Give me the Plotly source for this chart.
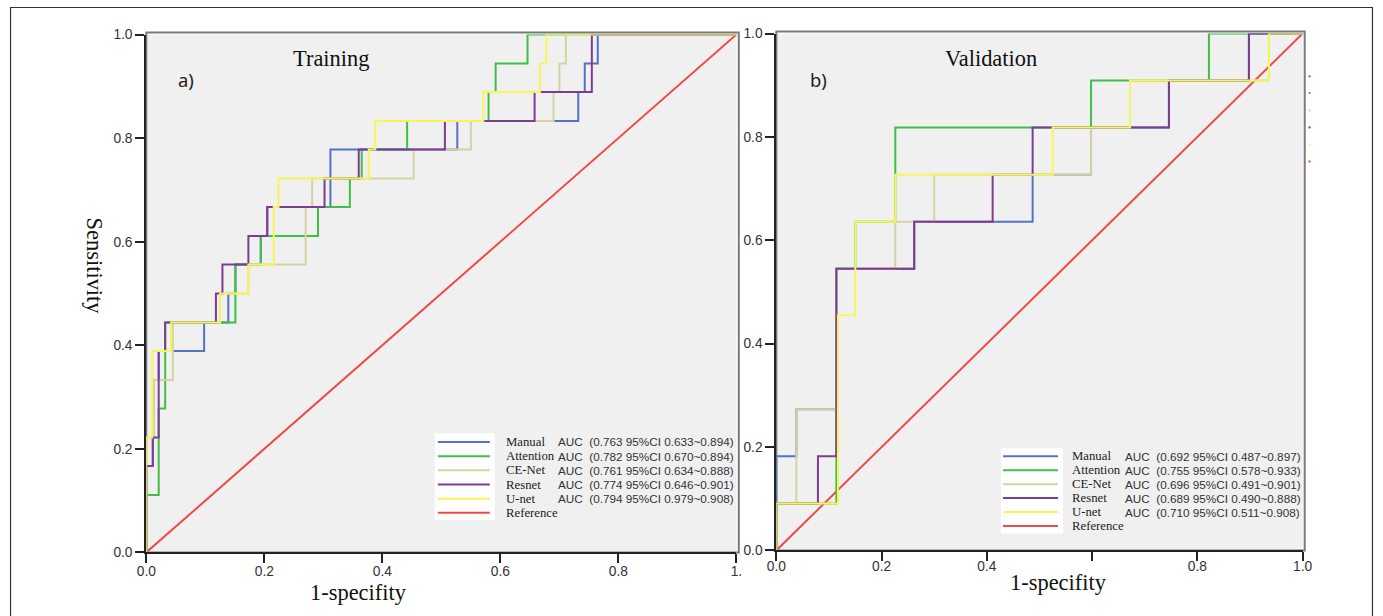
import plotly.graph_objects as go

W, H = 1383, 616

# ---------------- DATA ----------------
# Training panel: fpr at which tpr jumps, and the tpr level after the jump
tr_manual_fpr = [0, 0, 0.011, 0.013, 0.021, 0.098, 0.139, 0.151, 0.194, 0.205, 0.312, 0.527, 0.732, 0.743, 0.765, 1]
tr_manual_tpr = [0, 0.167, 0.222, 0.333, 0.389, 0.444, 0.500, 0.556, 0.611, 0.667, 0.778, 0.833, 0.889, 0.944, 1.0, 1.0]

tr_attention_fpr = [0, 0, 0.021, 0.032, 0.151, 0.194, 0.291, 0.345, 0.365, 0.442, 0.580, 0.592, 0.646, 1]
tr_attention_tpr = [0, 0.111, 0.278, 0.444, 0.556, 0.611, 0.667, 0.722, 0.778, 0.833, 0.889, 0.944, 1.0, 1.0]

tr_cenet_fpr = [0, 0, 0.013, 0.045, 0.125, 0.173, 0.270, 0.281, 0.453, 0.550, 0.690, 0.700, 0.711, 1]
tr_cenet_tpr = [0, 0.222, 0.333, 0.444, 0.500, 0.556, 0.667, 0.722, 0.778, 0.833, 0.889, 0.944, 1.0, 1.0]

tr_resnet_fpr = [0, 0, 0.011, 0.021, 0.032, 0.118, 0.129, 0.173, 0.205, 0.302, 0.360, 0.506, 0.658, 0.755, 1]
tr_resnet_tpr = [0, 0.167, 0.222, 0.389, 0.444, 0.500, 0.556, 0.611, 0.667, 0.722, 0.778, 0.833, 0.889, 1.0, 1.0]

tr_unet_fpr = [0, 0, 0.010, 0.042, 0.125, 0.173, 0.216, 0.224, 0.377, 0.388, 0.571, 0.667, 0.678, 1]
tr_unet_tpr = [0, 0.222, 0.389, 0.444, 0.500, 0.556, 0.667, 0.722, 0.778, 0.833, 0.889, 0.944, 1.0, 1.0]

# Validation panel
va_manual_fpr = [0, 0, 0.038, 0.114, 0.262, 0.487, 0.598, 0.746, 0.898, 1]
va_manual_tpr = [0, 0.182, 0.273, 0.545, 0.636, 0.727, 0.818, 0.909, 1.0, 1.0]

va_attention_fpr = [0, 0, 0.114, 0.150, 0.226, 0.598, 0.822, 1]
va_attention_tpr = [0, 0.091, 0.545, 0.636, 0.818, 0.909, 1.0, 1.0]

va_cenet_fpr = [0, 0, 0.038, 0.114, 0.226, 0.300, 0.598, 0.672, 0.936, 1]
va_cenet_tpr = [0, 0.091, 0.273, 0.545, 0.636, 0.727, 0.818, 0.909, 1.0, 1.0]

va_resnet_fpr = [0, 0, 0.079, 0.114, 0.262, 0.411, 0.487, 0.746, 0.898, 1]
va_resnet_tpr = [0, 0.091, 0.182, 0.545, 0.636, 0.727, 0.818, 0.909, 1.0, 1.0]

va_unet_fpr = [0, 0, 0.117, 0.150, 0.226, 0.525, 0.672, 0.936, 1]
va_unet_tpr = [0, 0.091, 0.455, 0.636, 0.727, 0.818, 0.909, 1.0, 1.0]

reference_x = [0, 1]
reference_y = [0, 1]

model_names = ["Manual", "Attention", "CE-Net", "Resnet", "U-net", "Reference"]
train_auc = ["AUC  (0.763 95%CI 0.633~0.894)", "AUC  (0.782 95%CI 0.670~0.894)",
             "AUC  (0.761 95%CI 0.634~0.888)", "AUC  (0.774 95%CI 0.646~0.901)",
             "AUC  (0.794 95%CI 0.979~0.908)", ""]
valid_auc = ["AUC  (0.692 95%CI 0.487~0.897)", "AUC  (0.755 95%CI 0.578~0.933)",
             "AUC  (0.696 95%CI 0.491~0.901)", "AUC  (0.689 95%CI 0.490~0.888)",
             "AUC  (0.710 95%CI 0.511~0.908)", ""]

tick_vals = [0, 0.2, 0.4, 0.6, 0.8, 1.0]
tick_text_y = ["0.0", "0.2", "0.4", "0.6", "0.8", "1.0"]
tick_text_xa = ["0.0", "0.2", "0.4", "0.6", "0.8", "1."]
tick_text_xb = ["0.0", "0.2", "0.4", "", "0.8", "1.0"]   # 0.6 is hidden under the axis title

colors = ["#5671c8", "#3fbf45", "#d8d2a2", "#7d3b92", "#f6f65a", "#f04848"]

# ---------------- FIGURE ----------------
# the page is shown slightly scaled/offset; map target pixel positions to paper coords
SX, SY, OX, OY = 0.987, 0.974, 7.5, 7.5


def X(px):
    return ((px - OX) / SX) / W


def Y(py):
    return 1 - ((py - OY) / SY) / H


FS = 1.0 / 0.98  # font compensation

fig = go.Figure()

train_sets = [(tr_manual_fpr, tr_manual_tpr), (tr_attention_fpr, tr_attention_tpr),
              (tr_cenet_fpr, tr_cenet_tpr), (tr_resnet_fpr, tr_resnet_tpr),
              (tr_unet_fpr, tr_unet_tpr)]
valid_sets = [(va_manual_fpr, va_manual_tpr), (va_attention_fpr, va_attention_tpr),
              (va_cenet_fpr, va_cenet_tpr), (va_resnet_fpr, va_resnet_tpr),
              (va_unet_fpr, va_unet_tpr)]

for axn, sets in (("", train_sets), ("2", valid_sets)):
    fig.add_trace(go.Scatter(x=reference_x, y=reference_y, mode="lines",
                             line=dict(color=colors[5], width=2),
                             xaxis="x" + axn, yaxis="y" + axn, showlegend=False,
                             hoverinfo="skip"))
    for i, (fx, ty) in enumerate(sets):
        fig.add_trace(go.Scatter(x=fx, y=ty, mode="lines", line_shape="hv",
                                 line=dict(color=colors[i], width=2),
                                 xaxis="x" + axn, yaxis="y" + axn,
                                 name=model_names[i], showlegend=False))

tickfont = dict(family="Liberation Sans, Arial, sans-serif", size=13.5 * FS, color="#333")
axis_common = dict(range=[0, 1], showgrid=False, zeroline=False, showline=True,
                   linecolor="#222", linewidth=2, ticks="outside", ticklen=9,
                   tickwidth=1.5, tickcolor="#222", tickfont=tickfont,
                   tickvals=tick_vals)

fig.update_layout(
    width=W, height=H,
    margin=dict(l=0, r=0, t=0, b=0),
    paper_bgcolor="white",
    plot_bgcolor="#f0f0f0",
    showlegend=False,
    xaxis=dict(domain=[X(144), X(735)], anchor="y", ticktext=tick_text_xa,
               ticklabelstandoff=-4, **axis_common),
    yaxis=dict(domain=[Y(552), Y(35)], anchor="x", ticktext=tick_text_y, **axis_common),
    xaxis2=dict(domain=[X(775), X(1302)], anchor="y2", ticktext=tick_text_xb,
                ticklabelstandoff=-7, **axis_common),
    yaxis2=dict(domain=[Y(550), Y(34)], anchor="x2", ticktext=tick_text_y, **axis_common),
)

shapes = []
# outer frame
shapes.append(dict(type="rect", xref="paper", yref="paper", x0=0.0004, x1=0.9996,
                   y0=-0.02, y1=0.9992, line=dict(color="#333", width=1.2), layer="below"))
# panel frames (top/right gray)
for xr, yr in (("x", "y"), ("x2", "y2")):
    shapes.append(dict(type="rect", xref=xr + " domain", yref=yr + " domain",
                       x0=0, x1=1.004, y0=0, y1=1.004,
                       line=dict(color="#7a7a7a", width=2), layer="below"))

annotations = []
serif = "Liberation Serif, Times New Roman, serif"
sans = "Liberation Sans, Arial, sans-serif"


def legend(box_x0, box_x1, box_y0, box_y1, line_x0, line_x1, row_y, name_x, auc_x, aucs):
    shapes.append(dict(type="rect", xref="paper", yref="paper",
                       x0=X(box_x0), x1=X(box_x1), y0=Y(box_y1), y1=Y(box_y0),
                       fillcolor="white", line=dict(width=0), layer="above"))
    for k, name in enumerate(model_names):
        yy = row_y[k]
        shapes.append(dict(type="line", xref="paper", yref="paper",
                           x0=X(line_x0), x1=X(line_x1), y0=Y(yy), y1=Y(yy),
                           line=dict(color=colors[k], width=2), layer="above"))
        annotations.append(dict(xref="paper", yref="paper", x=X(name_x), y=Y(yy),
                                text=name, showarrow=False, xanchor="left", yanchor="middle",
                                font=dict(family=serif, size=12.5 * FS, color="#222")))
        if aucs[k]:
            annotations.append(dict(xref="paper", yref="paper", x=X(auc_x), y=Y(yy),
                                    text=aucs[k].replace("  ", "&nbsp;&nbsp;"),
                                    showarrow=False, xanchor="left", yanchor="middle",
                                    font=dict(family=sans, size=11.5 * FS, color="#333")))


legend(433, 493, 433, 520, 436, 488, [441.7, 456, 470, 484.3, 498.3, 512.3], 502, 554, train_auc)
legend(1000, 1062, 448, 533, 1002, 1057, [456, 470, 484, 497.7, 511.7, 525.7], 1069, 1122, valid_auc)

# tiny leftover legend dots at the right of panel b
for k in range(6):
    yy = [76.7, 93.3, 110.7, 127.7, 145, 161.7][k]
    shapes.append(dict(type="line", xref="paper", yref="paper",
                       x0=X(1308), x1=X(1310), y0=Y(yy), y1=Y(yy),
                       line=dict(color=colors[k], width=2)))


def label(px, py, text, font, angle=0):
    return dict(xref="paper", yref="paper", x=X(px), y=Y(py), text=text, showarrow=False,
                xanchor="center", yanchor="middle", textangle=angle, font=font)


title_font = dict(family=serif, size=22 * FS, color="#111")
annotations += [
    label(329, 59, "Training", title_font),
    label(990, 59, "Validation", title_font),
    label(184, 80, "a)", dict(family="Noto Sans, sans-serif", size=18 * FS, color="#222")),
    label(817, 80, "b)", dict(family="Noto Sans, sans-serif", size=18 * FS, color="#222")),
    label(357, 592, "1-specifity", title_font),
    label(1058, 582, "1-specifity", title_font),
    label(92, 266, "Sensitivity", title_font, 90),
]

fig.update_layout(shapes=shapes, annotations=annotations)
fig.write_html("out.html", config={"displayModeBar": False},
               post_script="document.body.style.margin='0';")
